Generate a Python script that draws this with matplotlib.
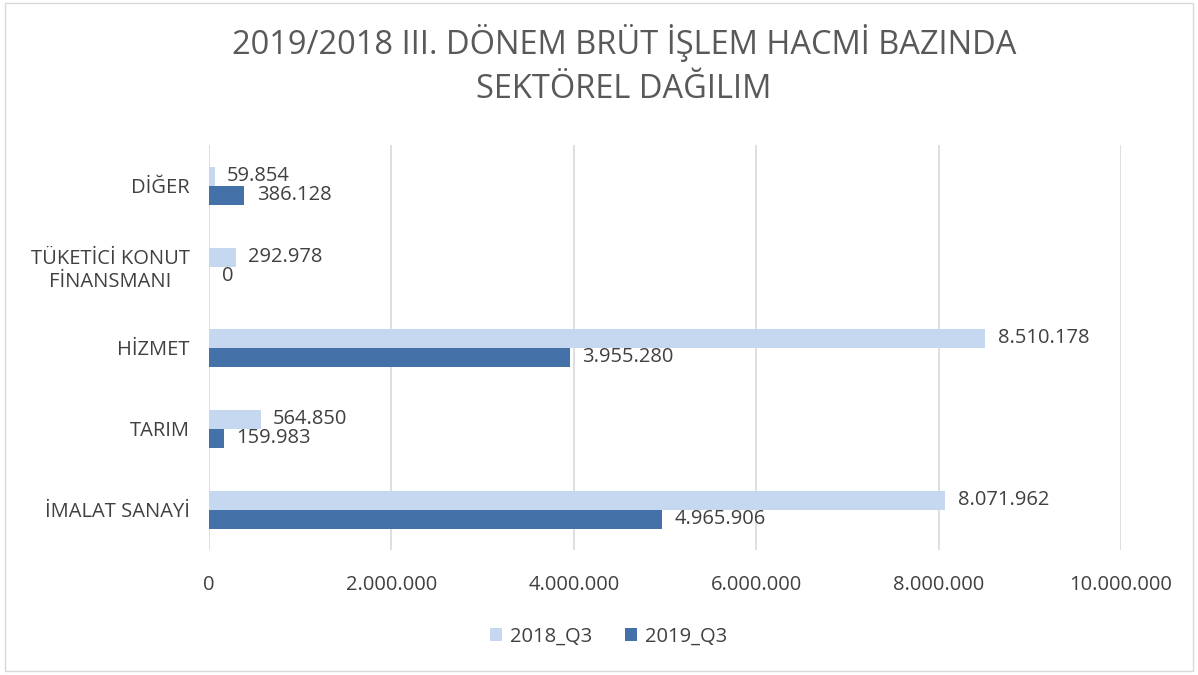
import matplotlib.pyplot as plt
import numpy as np

# data
categories = ["İMALAT SANAYİ", "TARIM", "HİZMET", "TÜKETİCİ KONUT\nFİNANSMANI", "DİĞER"]
q3_2018 = [8071962, 564850, 8510178, 292978, 59854]
q3_2019 = [4965906, 159983, 3955280, 0, 386128]
xticks = [0, 2000000, 4000000, 6000000, 8000000, 10000000]

light = "#C5D8F0"
dark = "#4472A8"
txt = "#404040"

def fmt(v):
    return "{:,}".format(int(v)).replace(",", ".")

plt.rcParams['font.family'] = ['Open Sans', 'DejaVu Sans']

fig = plt.figure(figsize=(11.98, 6.75), dpi=100)
ax = fig.add_axes([0.1745, 0.185, 0.7612, 0.60])

y = np.arange(len(categories))
h = 0.235
b1 = ax.barh(y + h / 2, q3_2018, height=h, color=light, label="2018_Q3", zorder=3)
b2 = ax.barh(y - h / 2, q3_2019, height=h, color=dark, label="2019_Q3", zorder=3)

for bars, vals in [(b1, q3_2018), (b2, q3_2019)]:
    for r, v in zip(bars, vals):
        ax.annotate(fmt(v), (r.get_width(), r.get_y() + r.get_height() / 2),
                    xytext=(9, 0), textcoords="offset points",
                    va="center", ha="left", fontsize=14.5, color=txt)

ax.set_xlim(0, 10000000)
ax.set_ylim(-0.5, 4.5)
ax.set_xticks(xticks)
ax.set_xticklabels([fmt(t) for t in xticks], fontsize=14.5, color=txt)
ax.set_yticks(y)
ax.set_yticklabels(categories, fontsize=14.5, color=txt, ha="right",
                   multialignment="center", linespacing=1.2)
ax.tick_params(axis="y", pad=14, length=0)
ax.tick_params(axis="x", pad=18, length=0)
ax.grid(axis="x", color="#D9D9D9", linewidth=1.2, zorder=0)
for s in ax.spines.values():
    s.set_visible(False)

fig.suptitle("2019/2018 III. DÖNEM BRÜT İŞLEM HACMİ BAZINDA\nSEKTÖREL DAĞILIM",
             x=0.521, y=0.965, fontsize=23.5, color="#595959", linespacing=1.45)

fig.legend(loc="lower center", bbox_to_anchor=(0.508, 0.015), ncol=2, frameon=False,
           fontsize=14.5, labelcolor=txt, handlelength=0.6, handleheight=0.6,
           columnspacing=1.6, handletextpad=0.4)

fig.patches.append(plt.Rectangle((0.004, 0.006), 0.992, 0.99, transform=fig.transFigure,
                                 fill=False, edgecolor="#D9D9D9", linewidth=1))

plt.savefig("out.png", dpi=100)
plt.close()
